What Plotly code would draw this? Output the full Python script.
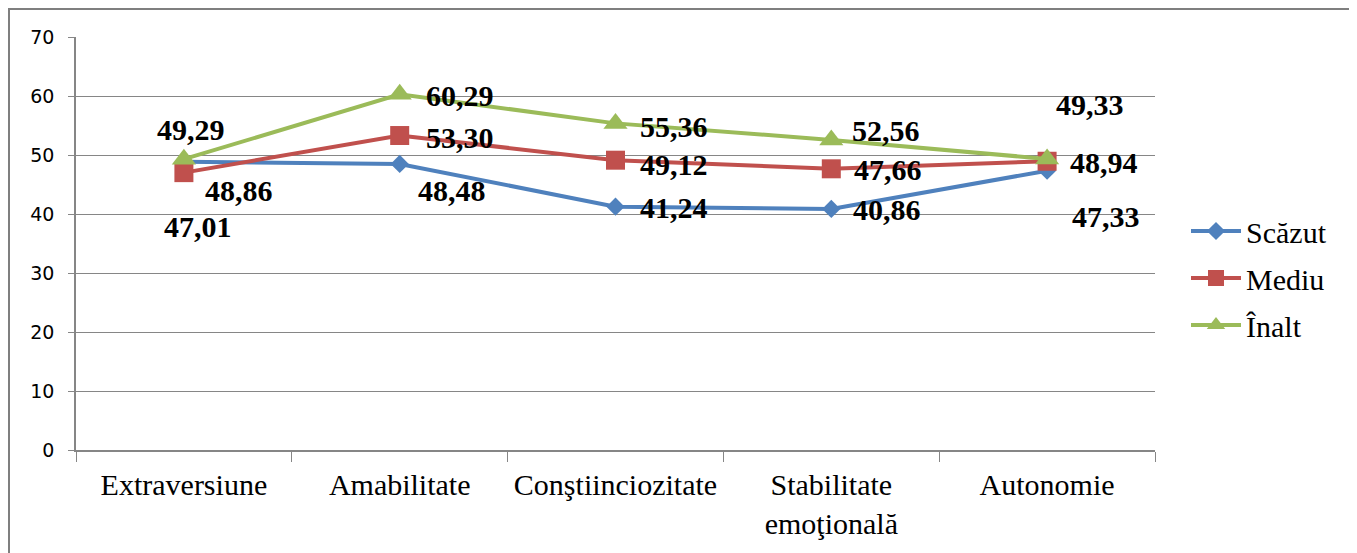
import plotly.graph_objects as go

categories = ["Extraversiune", "Amabilitate", "Conştiinciozitate", "Stabilitate<br>emoţională", "Autonomie"]
scazut = [48.86, 48.48, 41.24, 40.86, 47.33]
mediu = [47.01, 53.30, 49.12, 47.66, 48.94]
inalt = [49.29, 60.29, 55.36, 52.56, 49.33]
series_names = ["Scăzut", "Mediu", "Înalt"]
y_ticks = [0, 10, 20, 30, 40, 50, 60, 70]

colors = ["#4F81BD", "#C0504D", "#9BBB59"]
symbols = ["diamond", "square", "triangle-up"]
sizes = [14, 19, 21]
values = [scazut, mediu, inalt]

# label offsets in screen pixels (dx right, dy down) per series per category
offsets = [
    [(55, 29), (52, 27), (58, 1), (56, 1), (59, 46)],
    [(14, 54), (60, 2), (58, 4), (57, 1), (57, 1)],
    [(7, -30), (60, 1), (58, 3), (55, -9), (43, -54)],
]

SERIF = "Liberation Serif, Times New Roman, serif"

fig = go.Figure()
for name, vals, c, s, sz in zip(series_names, values, colors, symbols, sizes):
    fig.add_trace(go.Scatter(
        x=categories, y=vals, name=name, mode="lines+markers", legendgroup=name,
        line=dict(color=c, width=4),
        marker=dict(symbol=s, size=sz, color=c),
    ))

for vals, offs in zip(values, offsets):
    for cat, v, (dx, dy) in zip(categories, vals, offs):
        fig.add_annotation(
            x=cat, y=v, text=f"<b>{v:.2f}</b>".replace(".", ","), showarrow=False,
            xshift=dx, yshift=-dy,
            font=dict(family=SERIF, size=30, color="black"),
        )

# page has 8px body margin: figure origin sits at page (8, 8)
OFF = 8
W, H = 1357 - OFF, 553 - OFF
l, r, t, b = 76 - OFF, 202, 37 - OFF, 103
pw, ph = W - l - r, H - t - b

def px(x):
    return (x - OFF - l) / pw

def py(y):
    return (H - b - (y - OFF)) / ph

fig.add_shape(type="rect", xref="paper", yref="paper",
              x0=px(9), x1=px(1353), y0=py(620), y1=py(9),
              line=dict(color="#7F7F7F", width=2), layer="below")

fig.update_layout(
    width=W, height=H,
    margin=dict(l=l, r=r, t=t, b=b),
    paper_bgcolor="white", plot_bgcolor="white",
    showlegend=True,
    legend=dict(x=px(1186), y=py(205), xanchor="left", yanchor="top",
                font=dict(family=SERIF, size=30, color="black"),
                tracegroupgap=5, itemwidth=50, bgcolor="rgba(0,0,0,0)"),
    xaxis=dict(
        type="category", tickson="boundaries", ticks="outside", ticklen=10,
        tickcolor="#868686", showline=True, linecolor="#868686", linewidth=1.5,
        showgrid=False, range=[-0.5, 4.5],
        tickfont=dict(family=SERIF, size=30, color="black"),
        ticklabelstandoff=7,
    ),
    yaxis=dict(
        range=[0, 70], tickvals=y_ticks, ticks="outside", ticklen=6,
        tickcolor="#868686", showline=True, linecolor="#868686", linewidth=1.5,
        showgrid=True, gridcolor="#868686", gridwidth=1, zeroline=False,
        tickfont=dict(family="DejaVu Sans", size=19, color="black"),
        ticklabelstandoff=10,
    ),
)

fig.write_html("out.html")
